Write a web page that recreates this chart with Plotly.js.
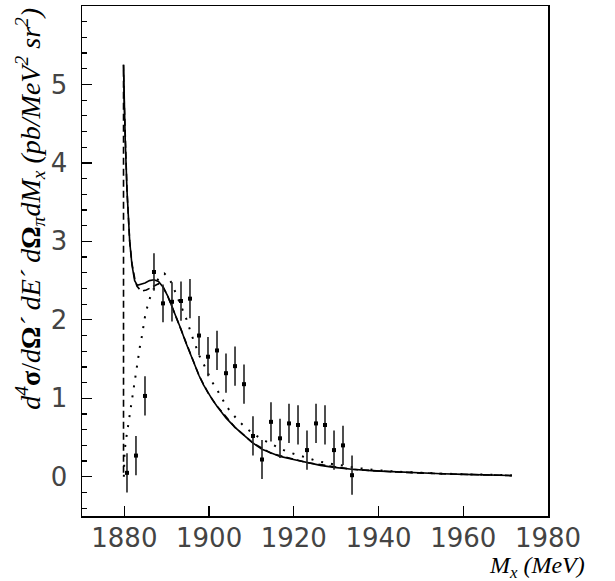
<!DOCTYPE html>
<html><head><meta charset="utf-8">
<script src="https://cdn.plot.ly/plotly-3.0.1.min.js"></script>
<style>html,body{margin:0;padding:0;background:#fff}#chart{width:615px;height:581px}</style>
</head><body><div id="chart"></div>
<script>
const massX = [1880.62,1882.74,1884.87,1886.99,1889.12,1891.24,1893.37,1895.49,1897.62,1899.74,1901.87,1903.99,1906.12,1908.24,1910.36,1912.49,1914.61,1916.74,1918.86,1920.99,1923.11,1925.24,1927.36,1929.49,1931.61,1933.74];
const crossSection = [0.05,0.27,1.03,2.61,2.21,2.23,2.24,2.27,1.80,1.53,1.61,1.32,1.41,1.18,0.52,0.22,0.70,0.49,0.68,0.66,0.34,0.68,0.66,0.34,0.40,0.02];
const crossErr = [0.25,0.25,0.25,0.24,0.24,0.25,0.25,0.25,0.25,0.25,0.25,0.25,0.25,0.25,0.25,0.25,0.25,0.25,0.25,0.25,0.25,0.25,0.25,0.25,0.25,0.25];

// Solid model curve
const solidX = [1879.80,1879.98,1880.20,1880.62,1881.26,1881.79,1882.43,1883.06,1883.81,1884.87,1885.93,1886.99,1888.06,1889.12,1890.18,1891.24,1892.31,1893.37,1894.43,1895.49,1896.55,1897.62,1898.68,1899.74,1900.80,1901.87,1903.99,1906.12,1908.24,1910.36,1912.49,1914.61,1916.74,1919.93,1923.11,1926.30,1929.49,1933.74,1939.05,1944.36,1949.67,1954.98,1960.29,1965.60,1971.45];
const solidY = [5.25,4.75,4.30,3.65,3.00,2.70,2.50,2.44,2.45,2.47,2.50,2.51,2.49,2.42,2.31,2.17,2.03,1.88,1.72,1.57,1.42,1.29,1.17,1.07,0.98,0.90,0.75,0.63,0.53,0.43,0.35,0.30,0.26,0.22,0.18,0.145,0.12,0.095,0.075,0.06,0.048,0.038,0.03,0.024,0.015];

// Dashed model curve
const dashX = [1879.80,1879.80,1879.98,1880.20,1880.62,1881.26,1881.79,1882.43,1882.96,1883.59,1884.34,1885.19,1885.93,1886.99,1888.06,1889.12,1890.18,1891.24,1893.37,1895.49,1897.62,1899.74,1901.87,1906.12,1910.36,1914.61,1923.11,1933.74,1944.36,1954.98,1971.45];
const dashY = [0.05,5.25,4.75,4.30,3.65,3.00,2.72,2.53,2.43,2.39,2.37,2.38,2.40,2.43,2.46,2.42,2.31,2.17,1.88,1.57,1.29,1.07,0.90,0.63,0.43,0.30,0.18,0.095,0.06,0.038,0.015];

// Dotted model curve
const dotX = [1879.88,1879.98,1880.04,1880.30,1880.62,1880.94,1881.26,1881.58,1882.00,1882.32,1882.64,1882.96,1883.38,1883.70,1884.13,1884.44,1884.87,1885.40,1886.04,1886.89,1887.74,1888.59,1889.44,1890.18,1891.03,1891.99,1892.84,1893.79,1894.64,1895.92,1896.87,1897.72,1898.68,1899.64,1900.70,1901.87,1903.03,1904.20,1905.69,1907.18,1908.98,1910.90,1912.81,1914.61,1916.74,1918.97,1921.09,1923.22,1925.45,1927.57,1930.23,1932.36,1934.91,1937.14,1939.26,1944.36,1949.67,1954.98,1960.29,1965.60,1971.45];
const dotY = [0.00,0.18,0.31,0.44,0.56,0.68,0.81,0.93,1.05,1.17,1.30,1.42,1.55,1.67,1.79,1.92,2.04,2.16,2.28,2.39,2.50,2.57,2.59,2.55,2.48,2.36,2.24,2.13,2.01,1.80,1.67,1.54,1.44,1.32,1.21,1.11,0.99,0.89,0.79,0.70,0.61,0.53,0.47,0.42,0.36,0.31,0.27,0.24,0.20,0.18,0.15,0.14,0.11,0.10,0.085,0.065,0.05,0.04,0.032,0.026,0.02];

const xTicks = [1880,1900,1920,1940,1960,1980];
const yTicks = [0,1,2,3,4,5];

const tickFont = {family:'"DejaVu Sans ExtraLight","DejaVu Sans",sans-serif', size:26, color:'#444'};

const traces = [
  {x: dashX, y: dashY, mode:'lines', line:{color:'#000', width:1.6, dash:'7px,4px'}, hoverinfo:'skip'},
  {x: dotX, y: dotY, mode:'lines', line:{color:'#000', width:2, dash:'2px,8px'}, hoverinfo:'skip'},
  {x: solidX, y: solidY, mode:'lines', line:{color:'#000', width:1.6}, hoverinfo:'skip'},
  {x: massX, y: crossSection, mode:'markers',
   marker:{symbol:'square', size:4, color:'#000'},
   error_y:{type:'data', array: crossErr, visible:true, width:0, thickness:1.6, color:'#222'}}
];

const layout = {
  width:615, height:581,
  margin:{l:82, r:67, t:6, b:65},
  paper_bgcolor:'#fff', plot_bgcolor:'#fff',
  showlegend:false,
  xaxis:{range:[1870,1980], tickvals:xTicks, ticktext:xTicks.map(String), ticks:'inside', ticklen:10, tickwidth:1.2,
         tickcolor:'#000', showline:true, mirror:true, linecolor:'#000', linewidth:1.5, showgrid:false, zeroline:false,
         tickfont:tickFont, ticklabelstandoff:-2},
  yaxis:{range:[-0.5,6.0], tickvals:yTicks, ticktext:yTicks.map(String), ticks:'inside', ticklen:10, tickwidth:1.2,
         tickcolor:'#000', showline:true, mirror:true, linecolor:'#000', linewidth:1.5, showgrid:false, zeroline:false,
         tickfont:tickFont, ticklabelstandoff:8,
         minor:{dtick:0.2, tick0:0, ticks:'inside', ticklen:5, tickwidth:1.2, tickcolor:'#000', showgrid:false}},
  annotations:[
    {xref:'paper', yref:'paper', x:-0.112, y:1.0, xanchor:'center', yanchor:'top', textangle:-90, showarrow:false,
     font:{family:'"Liberation Serif","Times New Roman",serif', size:28, color:'#000'},
     text:'<i>d</i><sup><i>4</i></sup><b>σ</b>/<i>d</i><b>Ω</b><i>´ dE´ d</i><b>Ω</b><sub><i>π</i></sub><i>dM</i><sub><i>x</i></sub><i> (pb/MeV</i><sup><i>2</i></sup><i> sr</i><sup><i>2</i></sup><i>)</i>'},
    {xref:'paper', yref:'paper', x:1.084, y:-0.1, xanchor:'right', yanchor:'middle', showarrow:false,
     font:{family:'"Liberation Serif","Times New Roman",serif', size:24, color:'#000'},
     text:'<i>M</i><sub><i>x</i></sub><i> (MeV)</i>'}
  ]
};

Plotly.newPlot('chart', traces, layout, {staticPlot:true, displayModeBar:false});
</script>
</body></html>
